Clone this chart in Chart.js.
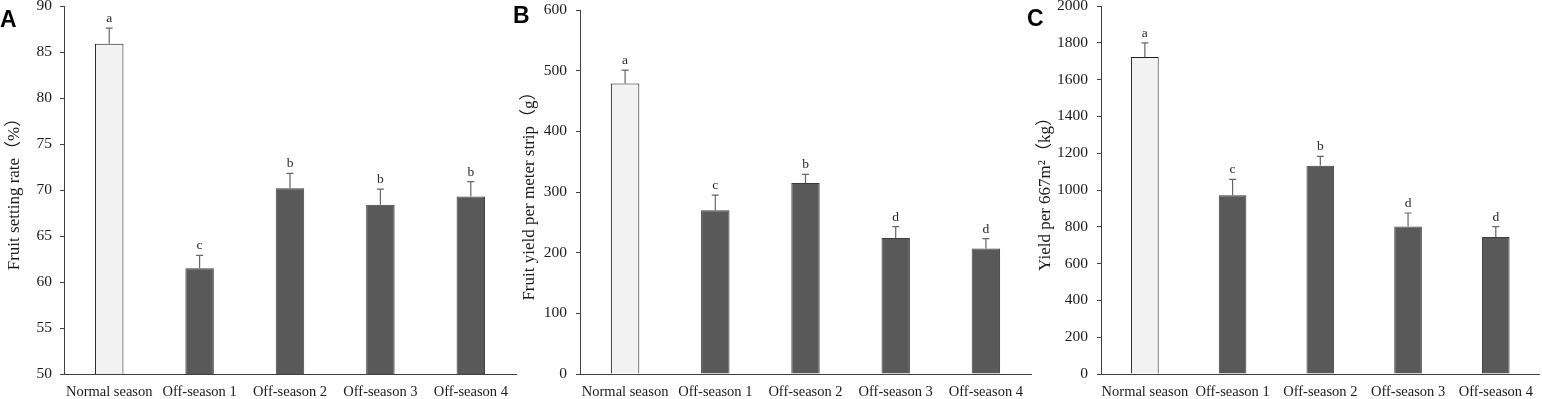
<!DOCTYPE html>
<html lang="en">
<head>
  <meta charset="UTF-8">
  <title>Fruit setting and yield by season</title>
  <script src="https://cdn.jsdelivr.net/npm/chart.js"></script>
  <style>
    body { margin: 0; background: #fff; }
    #wrap { position: relative; width: 1542px; height: 399px; overflow: hidden; }
    #wrap canvas { position: absolute; left: 0; top: 0; }
    .tag { position: absolute; font: bold 23px "Liberation Sans", Arial, sans-serif; line-height: 1; color: #000; }
  </style>
</head>
<body>
  <div id="wrap">
    <canvas id="chartA" width="1542" height="399"></canvas>
    <canvas id="chartB" width="1542" height="399"></canvas>
    <canvas id="chartC" width="1542" height="399"></canvas>
    <div class="tag" style="left:0px;top:8px">A</div>
    <div class="tag" style="left:513px;top:4px">B</div>
    <div class="tag" style="left:1027px;top:7px">C</div>
  </div>
  <script>
    const seasons = ["Normal season", "Off-season 1", "Off-season 2", "Off-season 3", "Off-season 4"];

    // A - fruit setting rate (%)
    const setRate = [85.9, 61.5, 70.2, 68.4, 69.3];
    const setRateErr = [1.7, 1.4, 1.6, 1.7, 1.6];
    const setRateSig = ["a", "c", "b", "b", "b"];

    // B - fruit yield per meter strip (g)
    const stripYield = [479, 270, 315, 224, 207];
    const stripYieldErr = [22, 25, 14, 19, 16];
    const stripYieldSig = ["a", "c", "b", "d", "d"];

    // C - yield per 667 m2 (kg)
    const areaYield = [1723, 971, 1132, 801, 745];
    const areaYieldErr = [77, 87, 51, 74, 56];
    const areaYieldSig = ["a", "c", "b", "d", "d"];

    const serif = "'Liberation Serif', 'Times New Roman', 'Noto Sans CJK SC', serif";
    const axisColor = "#404040";
    const textColor = "#1a1a1a";

    // error bars + significance letters on top of each bar
    const errorBars = {
      id: "errorBars",
      afterDatasetsDraw(chart, args, opts) {
        const ctx = chart.ctx;
        const y = chart.scales.y;
        const vals = chart.data.datasets[0].data;
        chart.getDatasetMeta(0).data.forEach((bar, i) => {
          const top = y.getPixelForValue(vals[i] + opts.errors[i]);
          ctx.save();
          ctx.strokeStyle = "#666";
          ctx.lineWidth = 1.2;
          ctx.beginPath();
          ctx.moveTo(bar.x, bar.y);
          ctx.lineTo(bar.x, top);
          ctx.moveTo(bar.x - 3.5, top);
          ctx.lineTo(bar.x + 3.5, top);
          ctx.stroke();
          ctx.fillStyle = "#2a2a2a";
          ctx.font = "13.5px " + serif;
          ctx.textAlign = "center";
          ctx.textBaseline = "alphabetic";
          ctx.fillText(opts.labels[i], bar.x, top - 6);
          ctx.restore();
        });
      }
    };

    function makeChart(id, values, errs, sig, yOpts, pad, title, tickPad) {
      new Chart(document.getElementById(id), {
        type: "bar",
        data: {
          labels: seasons,
          datasets: [{
            data: values,
            backgroundColor: c => c.dataIndex === 0 ? "#f2f2f2" : "#595959",
            borderColor: c => c.dataIndex === 0 ? "#1e1e1e" : "#3d3d3d",
            borderWidth: 1,
            barPercentage: 0.315,
            categoryPercentage: 1
          }]
        },
        options: {
          responsive: false,
          animation: false,
          devicePixelRatio: 1,
          layout: { padding: { left: pad.left, right: pad.right, top: pad.top, bottom: 0 } },
          plugins: {
            legend: { display: false },
            tooltip: { enabled: false },
            errorBars: { errors: errs, labels: sig }
          },
          scales: {
            x: {
              grid: { display: false, drawTicks: false },
              border: { display: true, color: axisColor, width: 1 },
              ticks: { color: textColor, font: { family: serif, size: 14.5 }, padding: 9, maxRotation: 0, autoSkip: false },
              afterFit: s => { s.height = 25; }
            },
            y: {
              min: yOpts.min,
              max: yOpts.max,
              ticks: {
                stepSize: yOpts.step,
                color: textColor,
                font: { family: serif, size: 15.5 },
                padding: tickPad,
                callback: v => String(v)
              },
              grid: { drawOnChartArea: false, drawTicks: true, tickLength: 4, color: axisColor },
              border: { display: true, color: axisColor, width: 1 },
              title: {
                display: true,
                text: title.text,
                color: textColor,
                font: { family: serif, size: 17, lineHeight: 1 },
                padding: { top: title.pad, bottom: 0 }
              },
              afterFit: s => { s.width = 64; s.paddingTop = 0; s.paddingBottom = 0; }
            }
          }
        },
        plugins: [errorBars]
      });
    }

    makeChart("chartA", setRate, setRateErr, setRateSig,
      { min: 50, max: 90, step: 5 }, { left: 0, right: 1026, top: 6 },
      { text: "Fruit setting rate（%）", pad: 6.5 }, 8);

    makeChart("chartB", stripYield, stripYieldErr, stripYieldSig,
      { min: 0, max: 600, step: 100 }, { left: 516, right: 511, top: 10 },
      { text: "Fruit yield per meter strip（g）", pad: 5 }, 9);

    makeChart("chartC", areaYield, areaYieldErr, areaYieldSig,
      { min: 0, max: 2000, step: 200 }, { left: 1037, right: 1, top: 6 },
      { text: "Yield per 667m²（kg）", pad: 0.2 }, 9);
  </script>
</body>
</html>
